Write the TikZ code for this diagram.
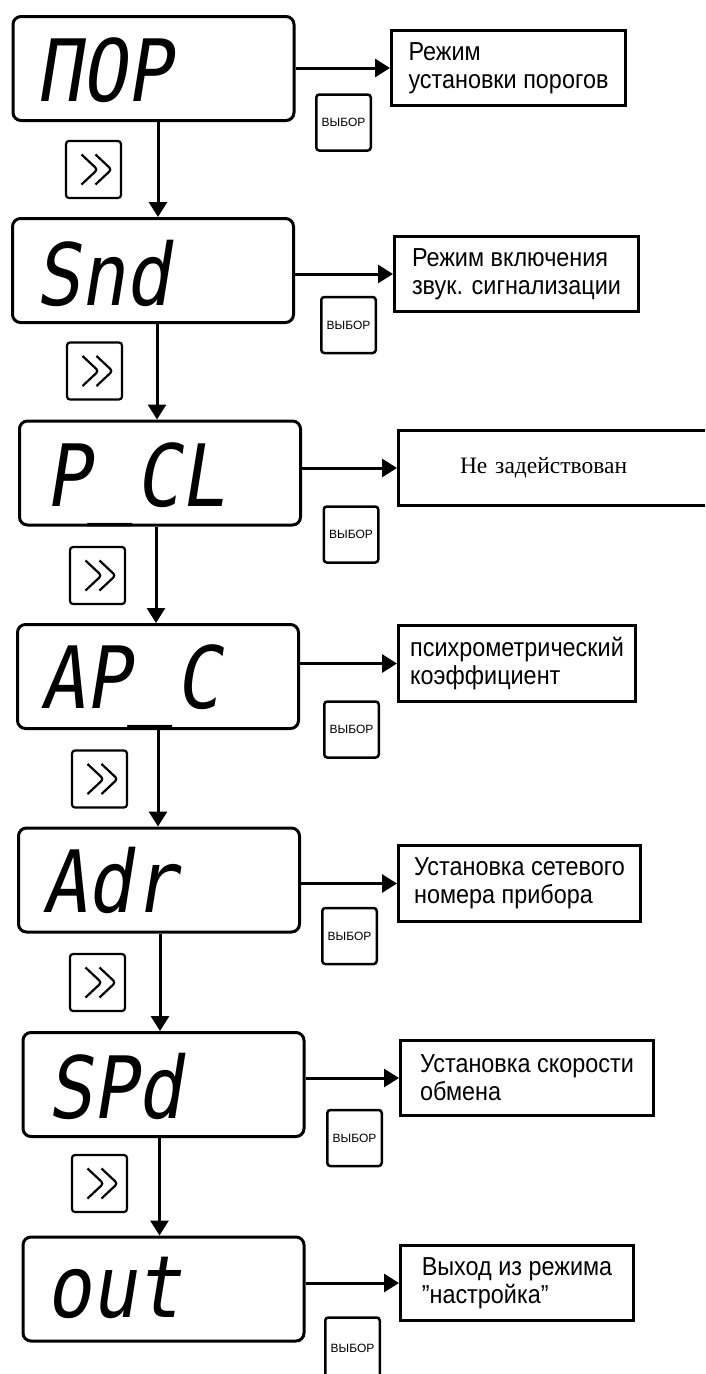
\documentclass[tikz,border=0pt]{standalone}
\usepackage{fontspec}
\setmainfont{Liberation Sans}
\newfontfamily\dispfont{DejaVu Sans Mono}[FakeStretch=0.87,FakeSlant=0.16]
\newfontfamily\descfont{Liberation Sans}[FakeStretch=0.9]
\newfontfamily\serifface{Liberation Serif}
\usetikzlibrary{arrows.meta,calc}
\tikzset{
  disp/.style={draw, line width=3pt, rounded corners=8pt, inner sep=0pt,
    minimum width=281pt, minimum height=104pt},
  disptxt/.style={anchor=base west, inner sep=0pt,
    font=\dispfont\fontsize{86}{86}\selectfont},
  desc/.style={draw, line width=3pt, inner sep=2pt, align=left,
    font=\descfont\fontsize{26}{28}\selectfont},
  vybor/.style={draw, line width=2.5pt, rounded corners=3pt, inner sep=0pt,
    minimum width=54.5pt, minimum height=56pt, font=\fontsize{12}{12}\selectfont},
  fwd/.style={draw, line width=2.2pt, rounded corners=3pt, inner sep=0pt,
    minimum width=55pt, minimum height=57pt,
    path picture={
      \draw[line width=2.2pt, line join=miter]
        ($(path picture bounding box.center)+(-12,-15)$) -- ++(16,15) -- ++(-16,15);
      \draw[line width=2.2pt, line join=miter]
        ($(path picture bounding box.center)+(2,-15)$) -- ++(16,15) -- ++(-16,15);
    }},
  conn/.style={line width=3pt, -{Triangle[length=15pt,width=18pt]}},
}
\begin{document}
\begin{tikzpicture}[x=1pt,y=-1pt]
\useasboundingbox (0,0) rectangle (705,1374);
\clip (0,0) rectangle (705,1374);

% display boxes
\node[disp] (d1) at (153.5,68.5) {};
\node[disp] (d2) at (153,270.5) {};
\node[disp] (d3) at (160,473) {};
\node[disp] (d4) at (158,676.5) {};
\node[disp] (d5) at (159,880) {};
\node[disp] (d6) at (163.5,1084.5) {};
\node[disp] (d7) at (163.5,1289) {};

% display texts
\node[disptxt] (t1) at (36,101) {ПОР};
\node[disptxt] (t2) at (35,305) {Snd};
\node[disptxt] (t3) at (45,506) {P\_CL};
\node[disptxt] (t4) at (40,708) {AP\_C};
\node[disptxt] (t5) at (42,912) {Adr};
\node[disptxt] (t6) at (47,1118) {SPd};
\node[disptxt] (t7) at (46,1317) {out};

% description boxes
\node[desc, minimum width=234pt, minimum height=75pt] (e1) at (508.5,68) {Режим\\установки порогов};
\node[desc, minimum width=244pt, minimum height=75pt] (e2) at (516.5,274) {Режим включения\\звук. сигнализации};
\node[desc, inner xsep=61.5pt, text width=189pt, minimum height=75pt,
      font=\serifface\fontsize{23.5}{26}\selectfont] (e3) at (554.5,468) {Не задействован};
\node[desc, minimum width=237pt, minimum height=76pt] (e4) at (517,663.5) {психрометрический\\коэффициент};
\node[desc, minimum width=242pt, minimum height=76pt] (e5) at (519.5,883.5) {Установка сетевого\\номера прибора};
\node[desc, minimum width=253pt, minimum height=75pt] (e6) at (527,1078) {Установка скорости\\обмена};
\node[desc, minimum width=233pt, minimum height=75pt] (e7) at (517,1283) {Выход из режима\\”настройка”};

% select buttons
\node[vybor] (v1) at (343.5,122.5) {ВЫБОР};
\node[vybor] (v2) at (348.5,325) {ВЫБОР};
\node[vybor] (v3) at (351,534.5) {ВЫБОР};
\node[vybor] (v4) at (351.5,729.5) {ВЫБОР};
\node[vybor] (v5) at (349.5,936) {ВЫБОР};
\node[vybor] (v6) at (354.5,1138) {ВЫБОР};
\node[vybor, minimum height=62pt] (v7) at (352.5,1348.5) {ВЫБОР};

% forward buttons
\node[fwd] (f1) at (93.5,169.5) {};
\node[fwd] (f2) at (94.5,371) {};
\node[fwd] (f3) at (97.5,575.5) {};
\node[fwd] (f4) at (99.5,779) {};
\node[fwd] (f5) at (97.5,982.5) {};
\node[fwd] (f6) at (99.5,1183.5) {};

% vertical connectors
\draw[conn] ([xshift=4.5pt]d1.south) -- ([xshift=4.5pt]d1.south |- d2.north);
\draw[conn] ([xshift=4pt]d2.south) -- ([xshift=4pt]d2.south |- d3.north);
\draw[conn] ([xshift=-4pt]d3.south) -- ([xshift=-4pt]d3.south |- d4.north);
\draw[conn] (d4.south) -- (d4.south |- d5.north);
\draw[conn] ([xshift=1pt]d5.south) -- ([xshift=1pt]d5.south |- d6.north);
\draw[conn] ([xshift=-4pt]d6.south) -- ([xshift=-4pt]d6.south |- d7.north);

% horizontal connectors
\draw[conn] (d1.east |- e1.west) -- (e1.west);
\draw[conn] (d2.east |- e2.west) -- (e2.west);
\draw[conn] (d3.east |- e3.west) -- (e3.west);
\draw[conn] (d4.east |- e4.west) -- (e4.west);
\draw[conn] (d5.east |- e5.west) -- (e5.west);
\draw[conn] (d6.east |- e6.west) -- (e6.west);
\draw[conn] (d7.east |- e7.west) -- (e7.west);
\end{tikzpicture}
\end{document}
